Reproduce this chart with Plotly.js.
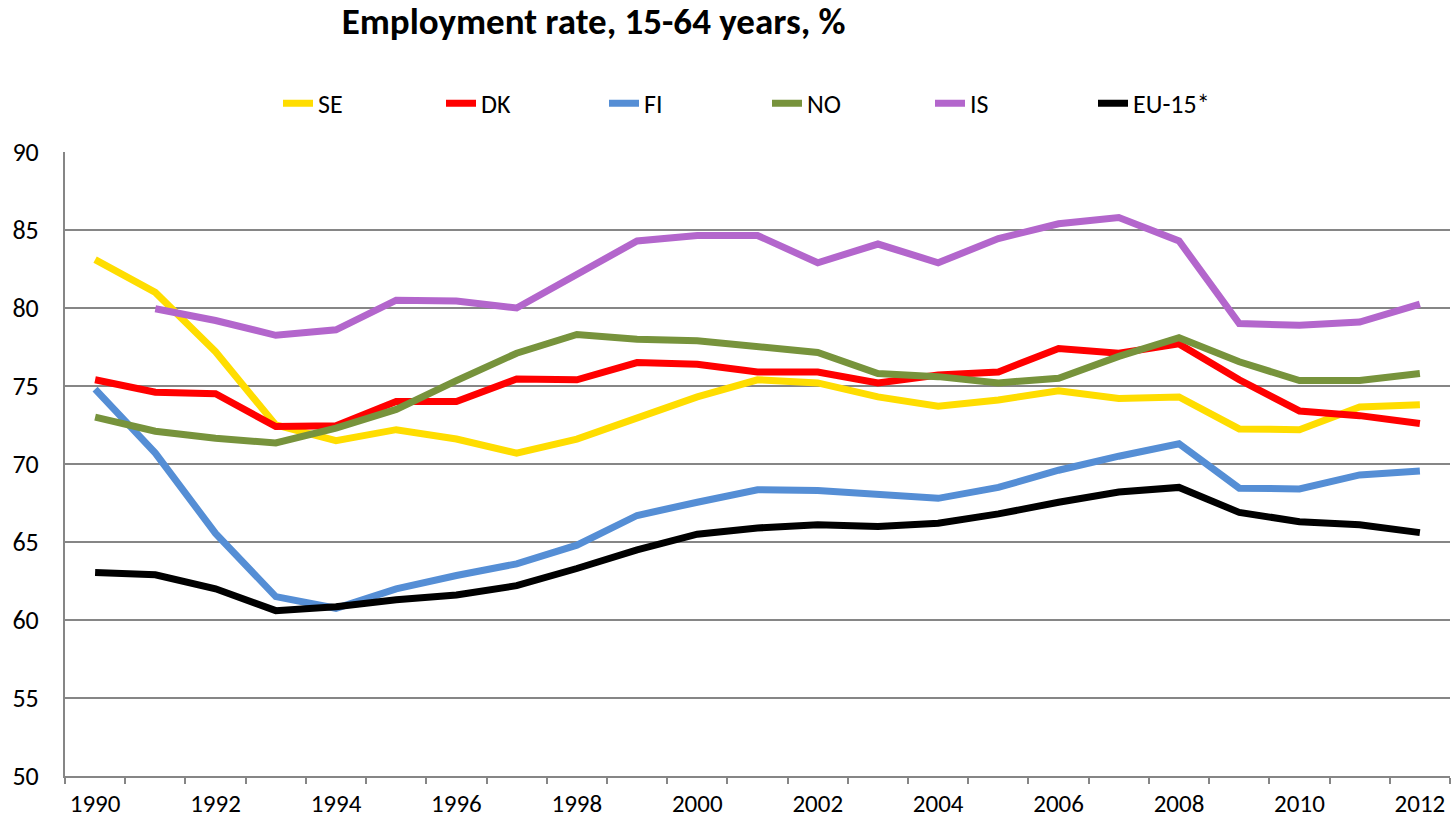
<!DOCTYPE html>
<html>
<head>
<meta charset="utf-8">
<script src="https://cdn.plot.ly/plotly-3.0.1.min.js"></script>
<style>
  html, body { margin: 0; padding: 0; background: #fff; }
  #chart { width: 1455px; height: 822px; }
</style>
</head>
<body>
<div id="chart"></div>
<script>
const years = [1990,1991,1992,1993,1994,1995,1996,1997,1998,1999,2000,2001,2002,2003,2004,2005,2006,2007,2008,2009,2010,2011,2012];
const tickYears = [1990,1992,1994,1996,1998,2000,2002,2004,2006,2008,2010,2012];

const SE = [83.1,81.0,77.2,72.5,71.5,72.2,71.6,70.7,71.6,72.9,74.3,75.4,75.2,74.3,73.7,74.1,74.7,74.2,74.3,72.25,72.2,73.65,73.8];
const DK = [75.4,74.6,74.5,72.4,72.45,74.0,74.0,75.45,75.4,76.5,76.4,75.9,75.9,75.2,75.7,75.9,77.4,77.1,77.7,75.4,73.4,73.1,72.6];
const FI = [74.8,70.7,65.55,61.5,60.75,62.0,62.85,63.6,64.8,66.7,67.55,68.35,68.3,68.0,67.8,68.5,69.6,70.5,71.3,68.45,68.4,69.3,69.55];
const NO = [73.0,72.1,71.65,71.35,72.3,73.5,75.35,77.1,78.3,78.0,77.9,77.5,77.15,75.8,75.6,75.2,75.5,76.9,78.1,76.55,75.35,75.35,75.8];
const IS = [null,79.95,79.2,78.25,78.6,80.5,80.45,80.0,82.2,84.3,84.65,84.65,82.9,84.1,82.9,84.45,85.4,85.8,84.3,79.0,78.9,79.1,80.25];
const EU15 = [63.05,62.9,62.0,60.6,60.85,61.3,61.6,62.2,63.3,64.5,65.5,65.9,66.1,66.0,66.2,66.8,67.55,68.2,68.5,66.9,66.3,66.1,65.6];

const seriesNames = ['SE','DK','FI','NO','IS','EU-15*'];
const seriesData = [SE, DK, FI, NO, IS, EU15];
const seriesColors = ['#FFDD00','#FF0000','#558ED5','#77933C','#B366CC','#000000'];

const traces = seriesNames.map((n, i) => ({
  x: years,
  y: seriesData[i],
  name: n,
  type: 'scatter',
  mode: 'lines',
  line: { color: seriesColors[i], width: 7 },
  connectgaps: false,
  hoverinfo: 'x+y+name'
}));

const boundaries = [];
for (let k = 0; k <= years.length; k++) boundaries.push(years[0] - 0.5 + k);

const font = 'Carlito, Calibri, Lato, "Liberation Sans", sans-serif';

const layout = {
  width: 1455,
  height: 822,
  margin: { l: 65, r: 5, t: 152, b: 46 },
  paper_bgcolor: '#ffffff',
  plot_bgcolor: '#ffffff',
  font: { family: font, size: 26, color: '#000' },
  title: {
    text: '<b>Employment rate, 15-64 years, %</b>',
    font: { family: font, size: 37, color: '#000' },
    x: 0.408, xref: 'container', xanchor: 'center',
    y: 0.974, yref: 'container', yanchor: 'middle'
  },
  showlegend: true,
  legend: {
    orientation: 'h',
    x: (278 - 65) / 1385, xanchor: 'left',
    y: 1.078, yanchor: 'middle',
    entrywidth: 118, entrywidthmode: 'pixels',
    font: { family: font, size: 26, color: '#000' },
    bgcolor: 'rgba(0,0,0,0)',
    itemwidth: 30,
    traceorder: 'normal'
  },
  xaxis: {
    type: 'linear',
    range: [1989.5, 2012.5],
    tickmode: 'array',
    tickvals: tickYears,
    ticktext: tickYears.map(String),
    ticks: '',
    showgrid: false,
    zeroline: false,
    showline: true,
    linecolor: '#868686',
    linewidth: 2,
    ticklabelstandoff: 4,
    tickfont: { family: font, size: 25, color: '#000' },
    minor: {
      tickmode: 'array',
      tickvals: boundaries,
      ticks: 'outside',
      ticklen: 6,
      tickwidth: 2,
      tickcolor: '#868686',
      showgrid: false
    },
    fixedrange: true
  },
  yaxis: {
    range: [50, 90],
    tickmode: 'linear',
    tick0: 50,
    dtick: 5,
    ticks: '',
    showgrid: true,
    gridcolor: '#868686',
    gridwidth: 2,
    zeroline: false,
    showline: true,
    linecolor: '#868686',
    linewidth: 2,
    ticklabelstandoff: 19,
    tickfont: { family: font, size: 26, color: '#000' },
    fixedrange: true
  }
};

Plotly.newPlot('chart', traces, layout, { displayModeBar: false, responsive: false });
</script>
</body>
</html>
